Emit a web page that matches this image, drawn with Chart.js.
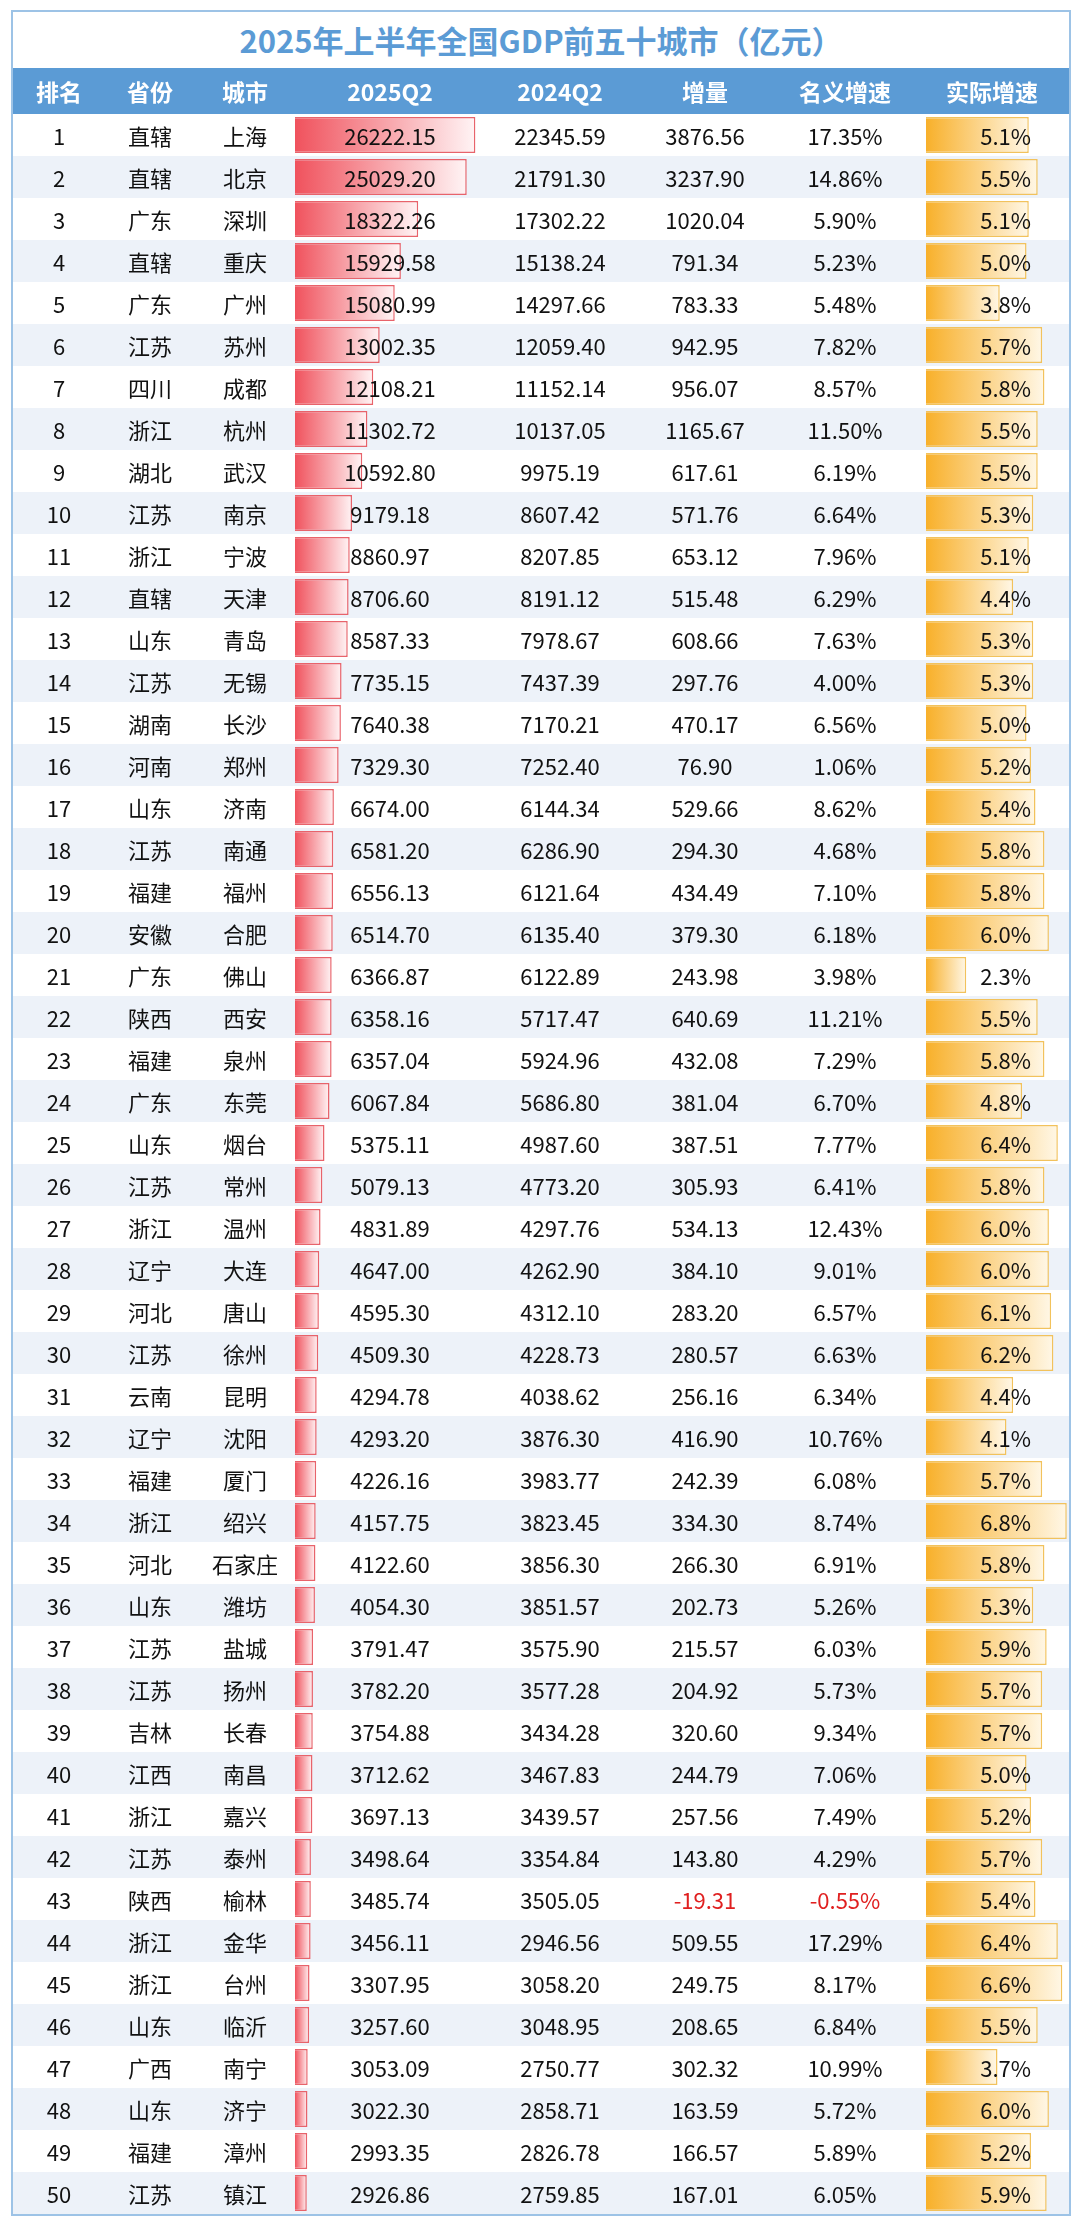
<!DOCTYPE html>
<html><head><meta charset="utf-8">
<script src="https://cdn.jsdelivr.net/npm/chart.js@4"></script>
<style>
body{margin:0;background:#fff;font-family:"Noto Sans CJK SC","Noto Sans",sans-serif;}
#wrap{position:absolute;left:11px;top:10px;width:1056px;border:2px solid #9dc3e6;background:#fff;}
#title{height:56px;line-height:56px;text-align:center;color:#5b9bd5;font-weight:bold;font-size:31px;}
table{border-collapse:collapse;width:1056px;table-layout:fixed;position:relative;z-index:2;}
th{background:#5b9bd5;color:#fff;height:46px;font-size:23px;font-weight:bold;padding:0;}
td{height:42px;padding:0;font-size:22px;color:#111;text-align:center;}
td.r{text-align:right;padding-right:38px;}
td.neg{color:#e02020;}
.bg{position:absolute;left:0;width:1056px;height:42px;z-index:0;}
canvas{position:absolute;z-index:1;}
</style></head><body>
<div id="wrap">
<div id="title">2025年上半年全国GDP前五十城市（亿元）</div>
<div id="stripes"></div>
<table id="tbl"><colgroup>
<col style="width:92px"><col style="width:90px"><col style="width:100px"><col style="width:190px"><col style="width:150px"><col style="width:140px"><col style="width:140px"><col style="width:154px">
</colgroup><thead><tr><th>排名</th><th>省份</th><th>城市</th><th>2025Q2</th><th>2024Q2</th><th>增量</th><th>名义增速</th><th>实际增速</th></tr></thead><tbody></tbody></table>
<canvas id="gdpBars"></canvas>
<canvas id="realBars"></canvas>
</div>
<script>
const provinces = ["直辖","直辖","广东","直辖","广东","江苏","四川","浙江","湖北","江苏","浙江","直辖","山东","江苏","湖南","河南","山东","江苏","福建","安徽","广东","陕西","福建","广东","山东","江苏","浙江","辽宁","河北","江苏","云南","辽宁","福建","浙江","河北","山东","江苏","江苏","吉林","江西","浙江","江苏","陕西","浙江","浙江","山东","广西","山东","福建","江苏"];
const cities = ["上海","北京","深圳","重庆","广州","苏州","成都","杭州","武汉","南京","宁波","天津","青岛","无锡","长沙","郑州","济南","南通","福州","合肥","佛山","西安","泉州","东莞","烟台","常州","温州","大连","唐山","徐州","昆明","沈阳","厦门","绍兴","石家庄","潍坊","盐城","扬州","长春","南昌","嘉兴","泰州","榆林","金华","台州","临沂","南宁","济宁","漳州","镇江"];
const gdp2025 = [26222.15,25029.20,18322.26,15929.58,15080.99,13002.35,12108.21,11302.72,10592.80,9179.18,8860.97,8706.60,8587.33,7735.15,7640.38,7329.30,6674.00,6581.20,6556.13,6514.70,6366.87,6358.16,6357.04,6067.84,5375.11,5079.13,4831.89,4647.00,4595.30,4509.30,4294.78,4293.20,4226.16,4157.75,4122.60,4054.30,3791.47,3782.20,3754.88,3712.62,3697.13,3498.64,3485.74,3456.11,3307.95,3257.60,3053.09,3022.30,2993.35,2926.86];
const gdp2024 = [22345.59,21791.30,17302.22,15138.24,14297.66,12059.40,11152.14,10137.05,9975.19,8607.42,8207.85,8191.12,7978.67,7437.39,7170.21,7252.40,6144.34,6286.90,6121.64,6135.40,6122.89,5717.47,5924.96,5686.80,4987.60,4773.20,4297.76,4262.90,4312.10,4228.73,4038.62,3876.30,3983.77,3823.45,3856.30,3851.57,3575.90,3577.28,3434.28,3467.83,3439.57,3354.84,3505.05,2946.56,3058.20,3048.95,2750.77,2858.71,2826.78,2759.85];
const increase = [3876.56,3237.90,1020.04,791.34,783.33,942.95,956.07,1165.67,617.61,571.76,653.12,515.48,608.66,297.76,470.17,76.90,529.66,294.30,434.49,379.30,243.98,640.69,432.08,381.04,387.51,305.93,534.13,384.10,283.20,280.57,256.16,416.90,242.39,334.30,266.30,202.73,215.57,204.92,320.60,244.79,257.56,143.80,-19.31,509.55,249.75,208.65,302.32,163.59,166.57,167.01];
const nominal = [17.35,14.86,5.90,5.23,5.48,7.82,8.57,11.50,6.19,6.64,7.96,6.29,7.63,4.00,6.56,1.06,8.62,4.68,7.10,6.18,3.98,11.21,7.29,6.70,7.77,6.41,12.43,9.01,6.57,6.63,6.34,10.76,6.08,8.74,6.91,5.26,6.03,5.73,9.34,7.06,7.49,4.29,-0.55,17.29,8.17,6.84,10.99,5.72,5.89,6.05];
const realGrowth = [5.1,5.5,5.1,5.0,3.8,5.7,5.8,5.5,5.5,5.3,5.1,4.4,5.3,5.3,5.0,5.2,5.4,5.8,5.8,6.0,2.3,5.5,5.8,4.8,6.4,5.8,6.0,6.0,6.1,6.2,4.4,4.1,5.7,6.8,5.8,5.3,5.9,5.7,5.7,5.0,5.2,5.7,5.4,6.4,6.6,5.5,3.7,6.0,5.2,5.9];

const ROW = 42, TOP = 56 + 46;
const tbody = document.querySelector("#tbl tbody");
const stripes = document.getElementById("stripes");
cities.forEach((c, i) => {
  const tr = document.createElement("tr");
  const neg = increase[i] < 0 ? " neg" : "";
  tr.innerHTML = `<td>${i + 1}</td><td>${provinces[i]}</td><td>${c}</td>` +
    `<td>${gdp2025[i].toFixed(2)}</td><td>${gdp2024[i].toFixed(2)}</td>` +
    `<td class="${neg}">${increase[i].toFixed(2)}</td><td class="${neg}">${nominal[i].toFixed(2)}%</td>` +
    `<td class="r">${realGrowth[i].toFixed(1)}%</td>`;
  tbody.appendChild(tr);
  if (i % 2 === 1) {
    const d = document.createElement("div");
    d.className = "bg";
    d.style.top = (TOP + i * ROW) + "px";
    d.style.background = "#edf2f9";
    stripes.appendChild(d);
  }
});

// gradient from the bar base to the bar end, via the x scale
function gradFill(c1, c2) {
  return (ctx) => {
    const chart = ctx.chart;
    const x = chart.scales && chart.scales.x;
    if (!x || ctx.raw === undefined || !chart.chartArea) return c1;
    const x0 = chart.chartArea.left;
    const x1 = x.getPixelForValue(ctx.raw);
    if (!isFinite(x1) || x1 <= x0) return c1;
    const g = chart.ctx.createLinearGradient(x0, 0, x1, 0);
    g.addColorStop(0, c1);
    g.addColorStop(1, c2);
    return g;
  };
}

function barChart(id, left, width, values, min, max, c1, c2, border) {
  const cv = document.getElementById(id);
  cv.style.left = left + "px";
  cv.style.top = TOP + "px";
  cv.style.width = width + "px";
  cv.style.height = (ROW * values.length) + "px";
  return new Chart(cv, {
    type: "bar",
    data: {
      labels: cities,
      datasets: [{
        data: values,
        backgroundColor: gradFill(c1, c2),
        borderColor: border,
        borderWidth: 1.5,
        borderSkipped: false,
        barPercentage: 0.86,
        categoryPercentage: 1,
      }],
    },
    options: {
      indexAxis: "y",
      responsive: false,
      animation: false,
      maintainAspectRatio: false,
      layout: { padding: 0 },
      plugins: { legend: { display: false }, tooltip: { enabled: false } },
      scales: {
        x: { display: false, min: min, max: max },
        y: { display: false },
      },
    },
  });
}

barChart("gdpBars", 282, 186, gdp2025, 1300, 27000, "#f0525d", "#fff4f5", "#e8636b");
barChart("realBars", 913, 143, realGrowth, 0.5, 6.9, "#f8b02a", "#fff7e6", "#f2c25c");
</script>
</body></html>
